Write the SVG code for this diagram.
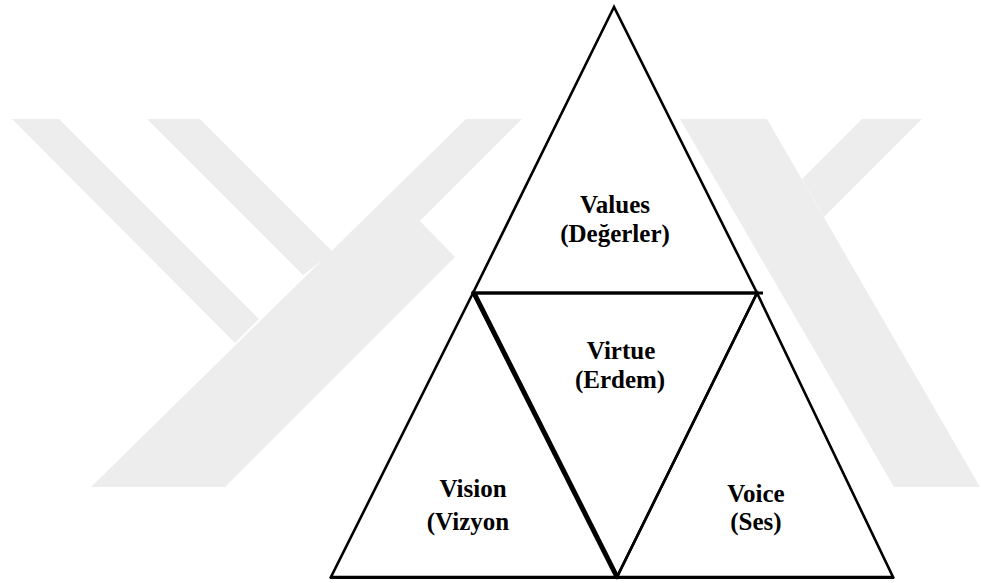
<svg xmlns="http://www.w3.org/2000/svg" width="981" height="583" viewBox="0 0 981 583">
<style>
.wm{fill:#ededed;stroke:none}
.tri{fill:#ffffff;stroke:#000000;stroke-width:2.6;stroke-linejoin:miter}
.lbl{font-family:"Liberation Serif","Times New Roman","DejaVu Serif",serif;font-weight:bold;font-size:25px;fill:#000000;text-anchor:middle}
</style>
<rect width="981" height="583" fill="#ffffff"/>
<g id="watermark">
<polygon class="wm" points="12,119 59,119 259,319 235,343"/>
<polygon class="wm" points="147,119 200,119 333,252 303,275"/>
<polygon class="wm" points="466,119 522,119 420,221 455,257 225,487 91,487"/>
<polygon class="wm" points="680,119 767,119 980,487 894,487"/>
<polygon class="wm" points="862,119 922,119 824,217 802,179"/>
</g>
<g id="node-values">
<polygon class="tri" points="614,7 473,293 757,293"/>
<text class="lbl" x="615" y="213" font-family="Liberation Serif, serif">Values</text>
<text class="lbl" x="615" y="242" font-family="Liberation Serif, serif">(Değerler)</text>
</g>
<g id="node-vision">
<polygon class="tri" points="473,293 331,577 617,577"/>
<text class="lbl" x="473" y="497" font-family="Liberation Serif, serif">Vision</text>
<text class="lbl" x="468" y="530" font-family="Liberation Serif, serif">(Vizyon</text>
</g>
<g id="node-voice">
<polygon class="tri" points="757,293 617,577 893,577"/>
<text class="lbl" x="756" y="502" font-family="Liberation Serif, serif">Voice</text>
<text class="lbl" x="756" y="530" font-family="Liberation Serif, serif">(Ses)</text>
</g>
<g id="node-virtue">
<polygon class="tri" points="473,293 757,293 617,577" style="fill:none"/>
<text class="lbl" x="621" y="359" font-family="Liberation Serif, serif">Virtue</text>
<text class="lbl" x="620" y="388" font-family="Liberation Serif, serif">(Erdem)</text>
</g>
<g id="connectors">
<line x1="474" y1="293" x2="617" y2="577" stroke="#000" stroke-width="5"/>
<line x1="330" y1="577.5" x2="894" y2="577.5" stroke="#000" stroke-width="3.2"/>
<line x1="473" y1="293" x2="763" y2="293" stroke="#000" stroke-width="3"/>
</g>
</svg>
